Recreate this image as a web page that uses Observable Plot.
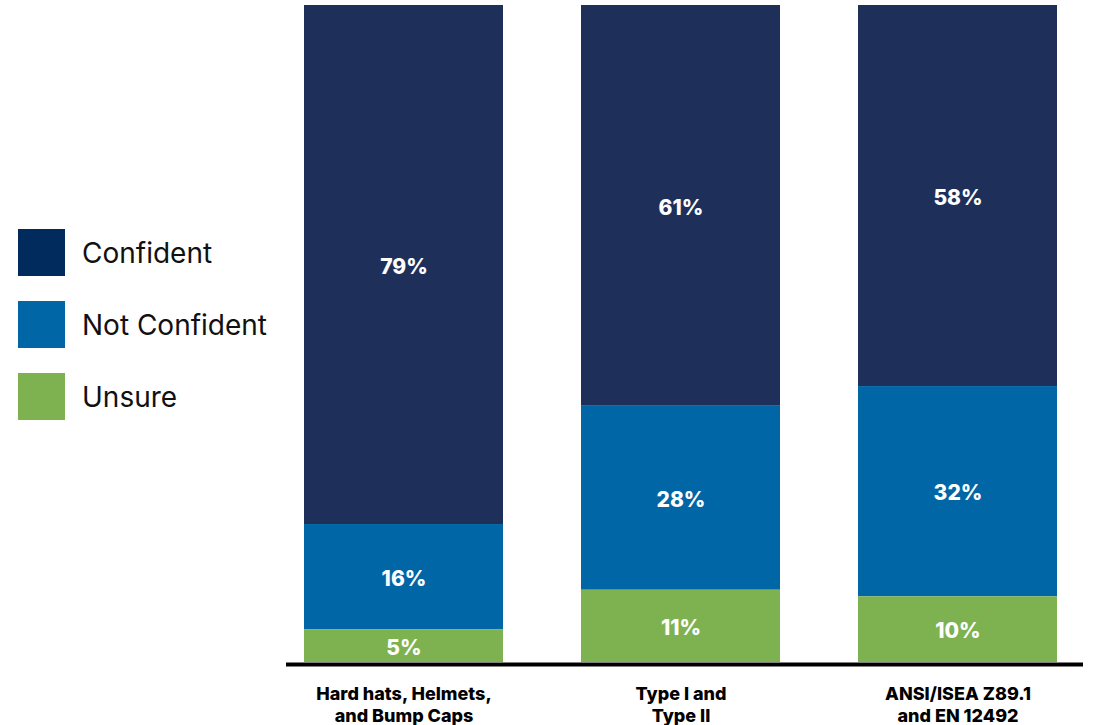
<!DOCTYPE html>
<html>
<head>
<meta charset="utf-8">
<script src="https://cdn.jsdelivr.net/npm/d3@7"></script>
<script src="https://cdn.jsdelivr.net/npm/@observablehq/plot@0.6"></script>
<style>
  html, body { margin: 0; padding: 0; background: #fff; }
  #wrap { position: relative; width: 1101px; height: 725px; font-family: Inter, "Noto Sans", sans-serif; }
  #legend { position: absolute; left: 18px; top: 229px; }
  .item { display: flex; align-items: center; height: 47px; margin-bottom: 25px; }
  .sw { width: 47px; height: 47px; margin-right: 17px; }
  .lab { font-size: 28px; color: #111; }
</style>
</head>
<body>
<div id="wrap"><div id="legend"></div></div>
<script>
const categories = ["Hard hats, Helmets, and Bump Caps", "Type I and Type II", "ANSI/ISEA Z89.1 and EN 12492"];
const tickLabels = ["Hard hats, Helmets,\nand Bump Caps", "Type I and\nType II", "ANSI/ISEA Z89.1\nand EN 12492"];
const series = ["Confident", "Not Confident", "Unsure"];
const confident = [79, 61, 58];
const notConfident = [16, 28, 32];
const unsure = [5, 11, 10];
const barColors = ["#1e2f5a", "#0066a6", "#7eb250"];
const legendColors = ["#002b5c", "#0066a6", "#7eb250"];
const stackOrder = ["Unsure", "Not Confident", "Confident"];

const values = [confident, notConfident, unsure];
const data = [];
series.forEach((s, si) => categories.forEach((c, ci) => data.push({category: c, series: s, value: values[si][ci]})));

const chart = Plot.plot({
  width: 1101,
  height: 725,
  marginLeft: 286,
  marginRight: 18,
  marginTop: 5,
  marginBottom: 63,
  style: {fontFamily: "Inter, 'Noto Sans', sans-serif", color: "#000", background: "#fff"},
  x: {domain: categories, range: [287, 1075], paddingInner: 0.2806, paddingOuter: 0.0576, axis: null},
  y: {domain: [0, 100], axis: null},
  color: {domain: series, range: barColors},
  marks: [
    Plot.barY(data, {x: "category", y: "value", fill: "series", order: stackOrder}),
    Plot.text(data, Plot.stackY({x: "category", y: "value", z: "series", order: stackOrder,
      text: d => d.value + "%", fill: "white", fontSize: 21, fontWeight: 800, dy: 2})),
    Plot.ruleY([0], {stroke: "#000", strokeWidth: 4, dy: 2}),
    Plot.axisX({domain: categories, tickSize: 0, tickPadding: 23, fontSize: 18, fontWeight: 800,
      lineHeight: 1.17, fill: "#000", label: null,
      tickFormat: d => tickLabels[categories.indexOf(d)]})
  ]
});
document.getElementById("wrap").prepend(chart);

const legend = d3.select("#legend");
series.forEach((s, i) => {
  const it = legend.append("div").attr("class", "item");
  it.append("div").attr("class", "sw").style("background", legendColors[i]);
  it.append("div").attr("class", "lab").text(s);
});
</script>
</body>
</html>
